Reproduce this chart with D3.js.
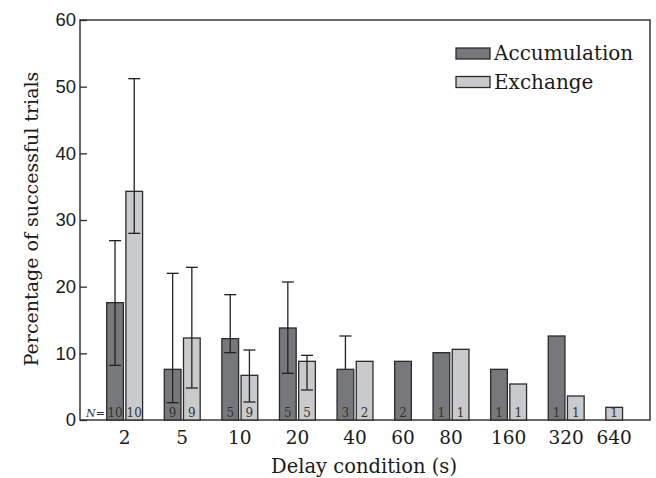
<!DOCTYPE html>
<html>
<head>
<meta charset="utf-8">
<script src="https://cdnjs.cloudflare.com/ajax/libs/d3/7.8.5/d3.min.js"></script>
<style>
  body { margin: 0; background: #fff; }
  svg { display: block; font-family: "DejaVu Serif", serif; }
</style>
</head>
<body>
<div id="chart"></div>
<script>
// chart data
let delays = ['2', '5', '10', '20', '40', '60', '80', '160', '320', '640'];
let accumulation = [17.6, 7.6, 12.2, 13.8, 7.6, 8.8, 10.1, 7.6, 12.6, null];
let exchange = [34.3, 12.3, 6.7, 8.8, 8.8, null, 10.6, 5.4, 3.6, 1.9];
let accumHi = [26.9, 22.0, 18.8, 20.7, 12.6, null, null, null, null, null];
let accumLo = [8.2, 2.6, 10.1, 7.0, null, null, null, null, null, null];
let exchHi = [51.2, 22.9, 10.5, 9.7, null, null, null, null, null, null];
let exchLo = [28.0, 4.8, 2.7, 4.5, null, null, null, null, null, null];
let accumN = [10, 9, 5, 5, 3, 2, 1, 1, 1, null];
let exchN = [10, 9, 9, 5, 2, null, 1, 1, 1, 1];
let yTicks = [0, 10, 20, 30, 40, 50, 60];

let width = 656, height = 478;
let margin = {top: 20, left: 80, right: 6, bottom: 58};

let colors = {Accumulation: '#77787c', Exchange: '#c9cacc'};
let stroke = '#2a2a2a';
let ink = '#1a1a1a';

let svg = d3.select('#chart').append('svg')
    .attr('width', width)
    .attr('height', height);

// each bar takes one slot, each group one extra slot of gap
let bars = [], groups = [];
let offset = 0;
for (let i = 0; i < delays.length; i++) {
    let series = [
        {name: 'Accumulation', v: accumulation[i], hi: accumHi[i], lo: accumLo[i], n: accumN[i]},
        {name: 'Exchange', v: exchange[i], hi: exchHi[i], lo: exchLo[i], n: exchN[i]}
    ].filter(s => s.v != null);
    series.forEach((s, j) => { s.slot = offset + j; bars.push(s); });
    groups.push({label: delays[i], start: offset, count: series.length});
    offset += series.length + 1;
}

let x = d3.scaleLinear()
    .domain([-1.39, 28.3])
    .range([margin.left, width - margin.right]);
let slotW = x(1) - x(0);
let barW = slotW * 0.87;

let y = d3.scaleLinear()
    .domain([0, 60])
    .range([height - margin.bottom, margin.top]);

// frame
svg.append('rect')
    .attr('x', x.range()[0])
    .attr('y', y(60))
    .attr('width', x.range()[1] - x.range()[0])
    .attr('height', y(0) - y(60))
    .attr('fill', 'none')
    .attr('stroke', stroke)
    .attr('stroke-width', 1.4);

// y axis, ticks pointing inward
let yAxis = svg.append('g')
    .attr('transform', `translate(${margin.left},0)`)
    .call(d3.axisRight(y).tickValues(yTicks).tickSize(7).tickFormat(d3.format('d')));
yAxis.select('.domain').remove();
yAxis.selectAll('line').attr('stroke', stroke).attr('stroke-width', 1.3);
yAxis.selectAll('text')
    .attr('x', -4)
    .attr('text-anchor', 'end')
    .attr('fill', ink)
    .style('font-size', '18.5px');

// bars
svg.append('g').selectAll('rect')
    .data(bars)
    .join('rect')
    .attr('x', d => x(d.slot))
    .attr('y', d => y(d.v))
    .attr('width', barW)
    .attr('height', d => y(0) - y(d.v))
    .attr('fill', d => colors[d.name])
    .attr('stroke', stroke)
    .attr('stroke-width', 1.3);

// error bars
let err = svg.append('g')
    .attr('stroke', '#222')
    .attr('stroke-width', 1.3);
bars.filter(d => d.hi != null).forEach(d => {
    let cx = x(d.slot) + barW / 2;
    let lo = d.lo != null ? d.lo : d.v;
    err.append('line')
        .attr('x1', cx).attr('x2', cx)
        .attr('y1', y(d.hi)).attr('y2', y(lo));
    err.append('line')
        .attr('x1', cx - 6).attr('x2', cx + 6)
        .attr('y1', y(d.hi)).attr('y2', y(d.hi));
    if (d.lo != null) {
        err.append('line')
            .attr('x1', cx - 6).attr('x2', cx + 6)
            .attr('y1', y(d.lo)).attr('y2', y(d.lo));
    }
});

// N counts inside bars
svg.append('g').selectAll('text')
    .data(bars.filter(d => d.n != null))
    .join('text')
    .attr('x', d => x(d.slot) + barW / 2)
    .attr('y', y(0) - 3)
    .attr('text-anchor', 'middle')
    .attr('fill', '#333')
    .style('font-size', '12px')
    .text(d => d.n);

let nLabel = svg.append('text')
    .attr('x', margin.left + 6)
    .attr('y', y(0) - 3)
    .attr('fill', '#333')
    .style('font-size', '11px');
nLabel.append('tspan').style('font-style', 'italic').text('N');
nLabel.append('tspan').text('=');

// x category labels, centred on each group's bars
svg.append('g').selectAll('text')
    .data(groups)
    .join('text')
    .attr('x', d => (x(d.start) + x(d.start + d.count - 1) + barW) / 2)
    .attr('y', y(0) + 24)
    .attr('text-anchor', 'middle')
    .attr('fill', ink)
    .style('font-size', '18.5px')
    .text(d => d.label);

// axis titles
svg.append('text')
    .attr('x', 364)
    .attr('y', 473)
    .attr('text-anchor', 'middle')
    .attr('fill', ink)
    .style('font-size', '19.5px')
    .text('Delay condition (s)');

svg.append('text')
    .attr('transform', `translate(38,${(y(0) + y(60)) / 2 - 1}) rotate(-90)`)
    .attr('text-anchor', 'middle')
    .attr('fill', ink)
    .style('font-size', '19px')
    .text('Percentage of successful trials');

// legend
let legend = svg.append('g')
    .attr('transform', 'translate(456,48)');
['Accumulation', 'Exchange'].forEach((name, i) => {
    let row = legend.append('g').attr('transform', `translate(0,${i * 28.5})`);
    row.append('rect')
        .attr('width', 34).attr('height', 11)
        .attr('fill', colors[name])
        .attr('stroke', stroke)
        .attr('stroke-width', 1.3);
    row.append('text')
        .attr('x', 38).attr('y', 12)
        .attr('fill', ink)
        .style('font-size', '20px')
        .text(name);
});
</script>
</body>
</html>
